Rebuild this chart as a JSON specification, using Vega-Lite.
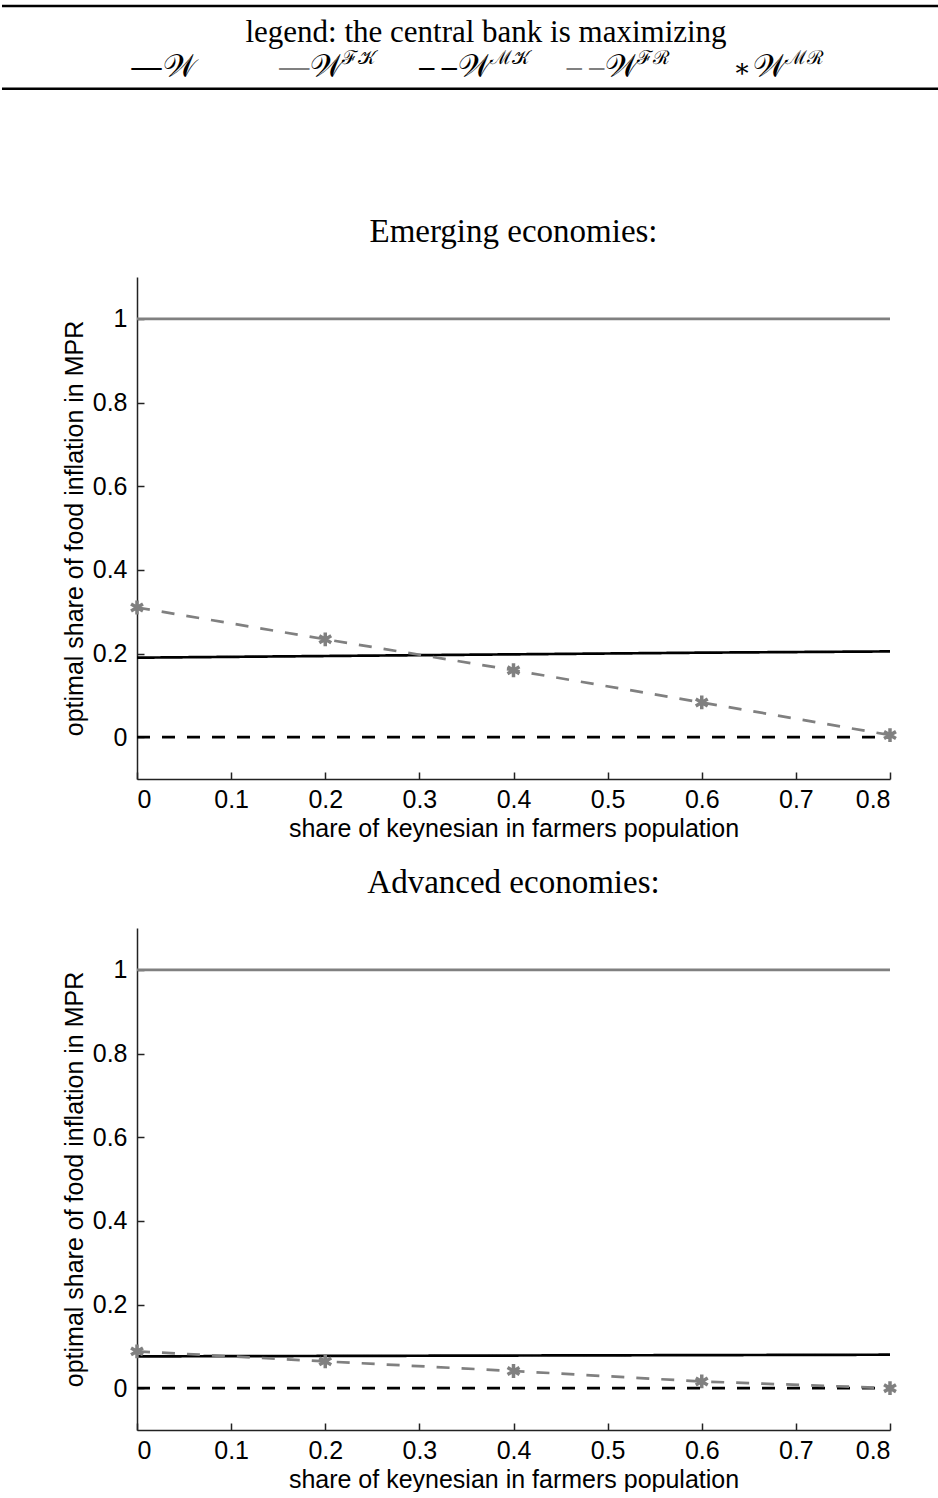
{
  "$schema": "https://vega.github.io/schema/vega-lite/v6.json",
  "padding": {"left": 0, "right": 0, "top": 4, "bottom": 0},
  "background": "white",
  "spacing": 26,
  "config": {
    "view": {"stroke": null},
    "font": "Liberation Sans",
    "axis": {
      "labelFont": "Liberation Sans", "labelFontSize": 25, "labelColor": "black",
      "titleFont": "Liberation Sans", "titleFontSize": 25, "titleFontWeight": "normal", "titleColor": "black",
      "domainColor": "#222222", "domainWidth": 1.5, "tickColor": "#222222", "tickWidth": 1.5,
      "tickSize": -7, "grid": false
    },
    "title": {"font": "Liberation Serif", "fontSize": 33, "fontWeight": "normal", "color": "black", "anchor": "middle"}
  },
  "datasets": {
    "curves": [
      {"economy": "Emerging", "series": "W", "share": 0.0, "value": 0.190},
      {"economy": "Emerging", "series": "W", "share": 0.2, "value": 0.194},
      {"economy": "Emerging", "series": "W", "share": 0.4, "value": 0.198},
      {"economy": "Emerging", "series": "W", "share": 0.6, "value": 0.202},
      {"economy": "Emerging", "series": "W", "share": 0.8, "value": 0.205},
      {"economy": "Emerging", "series": "FK", "share": 0.0, "value": 1.0},
      {"economy": "Emerging", "series": "FK", "share": 0.2, "value": 1.0},
      {"economy": "Emerging", "series": "FK", "share": 0.4, "value": 1.0},
      {"economy": "Emerging", "series": "FK", "share": 0.6, "value": 1.0},
      {"economy": "Emerging", "series": "FK", "share": 0.8, "value": 1.0},
      {"economy": "Emerging", "series": "MK", "share": 0.0, "value": 0.0},
      {"economy": "Emerging", "series": "MK", "share": 0.2, "value": 0.0},
      {"economy": "Emerging", "series": "MK", "share": 0.4, "value": 0.0},
      {"economy": "Emerging", "series": "MK", "share": 0.6, "value": 0.0},
      {"economy": "Emerging", "series": "MK", "share": 0.8, "value": 0.0},
      {"economy": "Emerging", "series": "FR", "share": 0.0, "value": 0.310},
      {"economy": "Emerging", "series": "FR", "share": 0.2, "value": 0.234},
      {"economy": "Emerging", "series": "FR", "share": 0.4, "value": 0.160},
      {"economy": "Emerging", "series": "FR", "share": 0.6, "value": 0.083},
      {"economy": "Emerging", "series": "FR", "share": 0.8, "value": 0.005},
      {"economy": "Emerging", "series": "MR", "share": 0.0, "value": 0.310},
      {"economy": "Emerging", "series": "MR", "share": 0.2, "value": 0.234},
      {"economy": "Emerging", "series": "MR", "share": 0.4, "value": 0.160},
      {"economy": "Emerging", "series": "MR", "share": 0.6, "value": 0.083},
      {"economy": "Emerging", "series": "MR", "share": 0.8, "value": 0.005},
      {"economy": "Advanced", "series": "W", "share": 0.0, "value": 0.076},
      {"economy": "Advanced", "series": "W", "share": 0.2, "value": 0.077},
      {"economy": "Advanced", "series": "W", "share": 0.4, "value": 0.078},
      {"economy": "Advanced", "series": "W", "share": 0.6, "value": 0.079},
      {"economy": "Advanced", "series": "W", "share": 0.8, "value": 0.080},
      {"economy": "Advanced", "series": "FK", "share": 0.0, "value": 1.0},
      {"economy": "Advanced", "series": "FK", "share": 0.2, "value": 1.0},
      {"economy": "Advanced", "series": "FK", "share": 0.4, "value": 1.0},
      {"economy": "Advanced", "series": "FK", "share": 0.6, "value": 1.0},
      {"economy": "Advanced", "series": "FK", "share": 0.8, "value": 1.0},
      {"economy": "Advanced", "series": "MK", "share": 0.0, "value": 0.0},
      {"economy": "Advanced", "series": "MK", "share": 0.2, "value": 0.0},
      {"economy": "Advanced", "series": "MK", "share": 0.4, "value": 0.0},
      {"economy": "Advanced", "series": "MK", "share": 0.6, "value": 0.0},
      {"economy": "Advanced", "series": "MK", "share": 0.8, "value": 0.0},
      {"economy": "Advanced", "series": "FR", "share": 0.0, "value": 0.088},
      {"economy": "Advanced", "series": "FR", "share": 0.2, "value": 0.064},
      {"economy": "Advanced", "series": "FR", "share": 0.4, "value": 0.041},
      {"economy": "Advanced", "series": "FR", "share": 0.6, "value": 0.016},
      {"economy": "Advanced", "series": "FR", "share": 0.8, "value": 0.0},
      {"economy": "Advanced", "series": "MR", "share": 0.0, "value": 0.088},
      {"economy": "Advanced", "series": "MR", "share": 0.2, "value": 0.064},
      {"economy": "Advanced", "series": "MR", "share": 0.4, "value": 0.041},
      {"economy": "Advanced", "series": "MR", "share": 0.6, "value": 0.016},
      {"economy": "Advanced", "series": "MR", "share": 0.8, "value": 0.0}
    ],
    "legend": [
      {"series": "W", "sym": "—", "sup": ""},
      {"series": "FK", "sym": "—", "sup": "ℱ𝒦"},
      {"series": "MK", "sym": "– –", "sup": "ℳ𝒦"},
      {"series": "FR", "sym": "– –", "sup": "ℱℛ"},
      {"series": "MR", "sym": "∗", "sup": "ℳℛ"}
    ]
  },
  "resolve": {"scale": {"color": "independent", "strokeDash": "independent"}},
  "vconcat": [
    {
      "width": 753,
      "height": 184,
      "resolve": {"scale": {"x": "independent"}},
      "layer": [
        {
          "data": {"values": [{"pos": 0}, {"pos": 90}]},
          "mark": {"type": "rule", "color": "black", "strokeWidth": 2.5},
          "encoding": {
            "x": {"datum": -0.1793, "type": "quantitative", "scale": {"domain": [0, 1]}, "axis": null},
            "x2": {"datum": 1.0664},
            "y": {"field": "pos", "type": "quantitative", "scale": {"domain": [0, 184], "reverse": true}, "axis": null}
          }
        },
        {
          "data": {"values": [{"label": "legend: the central bank is maximizing"}]},
          "mark": {"type": "text", "font": "Liberation Serif", "fontSize": 31, "color": "black", "baseline": "middle", "align": "center"},
          "encoding": {
            "x": {"datum": 0.4635, "type": "quantitative", "scale": {"domain": [0, 1]}, "axis": null},
            "y": {"datum": 29, "type": "quantitative"},
            "text": {"field": "label"}
          }
        },
        {
          "data": {"name": "legend"},
          "encoding": {
            "x": {"field": "series", "type": "nominal", "scale": {"type": "point", "domain": ["W", "FK", "MK", "FR", "MR"], "padding": 0.5508, "align": 0.157}, "axis": null}
          },
          "layer": [
            {
              "transform": [{"filter": "datum.series != 'MR'"}],
              "mark": {"type": "text", "font": "Liberation Serif", "fontSize": 30, "fontWeight": "bold", "align": "right", "baseline": "middle", "dx": -1},
              "encoding": {
                "y": {"datum": 66, "type": "quantitative"},
                "text": {"field": "sym"},
                "color": {"field": "series", "type": "nominal", "scale": {"domain": ["W", "FK", "MK", "FR", "MR"], "range": ["#000000", "#808080", "#000000", "#808080", "#000000"]}, "legend": null}
              }
            },
            {
              "transform": [{"filter": "datum.series == 'MR'"}],
              "mark": {"type": "text", "font": "DejaVu Serif", "fontSize": 26, "align": "right", "baseline": "middle", "dx": -2, "color": "black"},
              "encoding": {
                "y": {"datum": 68, "type": "quantitative"},
                "text": {"field": "sym"}
              }
            },
            {
              "mark": {"type": "text", "font": "DejaVu Serif", "fontSize": 32, "align": "left", "baseline": "middle", "color": "black"},
              "encoding": {
                "y": {"datum": 66, "type": "quantitative"},
                "text": {"value": "𝒲"}
              }
            },
            {
              "mark": {"type": "text", "font": "DejaVu Serif", "fontSize": 19, "align": "left", "baseline": "middle", "color": "black", "dx": 32},
              "encoding": {
                "y": {"datum": 57, "type": "quantitative"},
                "text": {"field": "sup"}
              }
            }
          ]
        }
      ]
    },
    {
      "title": {"text": "Emerging economies:", "offset": 28},
      "width": 753,
      "height": 502,
      "data": {"name": "curves"},
      "transform": [{"filter": "datum.economy == 'Emerging'"}],
      "layer": [
        {
          "transform": [{"filter": "datum.series != 'MR'"}],
          "mark": {"type": "line", "strokeWidth": 2.7},
          "encoding": {
            "x": {"field": "share", "type": "quantitative", "scale": {"domain": [0, 0.8], "nice": false, "zero": false}, "axis": {"title": "share of keynesian in farmers population", "values": [0, 0.1, 0.2, 0.3, 0.4, 0.5, 0.6, 0.7, 0.8], "format": "~g", "labelPadding": 15, "titlePadding": 4}},
            "y": {"field": "value", "type": "quantitative", "scale": {"domain": [-0.1, 1.1], "nice": false, "zero": false}, "axis": {"title": "optimal share of food inflation in MPR", "values": [0, 0.2, 0.4, 0.6, 0.8, 1], "format": "~g", "labelPadding": 17, "titlePadding": 5}},
            "color": {"field": "series", "type": "nominal", "scale": {"domain": ["W", "FK", "MK", "FR"], "range": ["#000000", "#808080", "#000000", "#808080"]}, "legend": null},
            "strokeDash": {"field": "series", "type": "nominal", "scale": {"domain": ["W", "FK", "MK", "FR"], "range": [[1, 0], [1, 0], [13, 12], [13, 12]]}, "legend": null}
          }
        },
        {
          "transform": [{"filter": "datum.series == 'MR'"}],
          "mark": {"type": "point", "shape": "M0,-1L0,1M-0.866,-0.5L0.866,0.5M-0.866,0.5L0.866,-0.5", "filled": false, "strokeWidth": 3.5, "size": 190, "color": "#808080", "opacity": 1},
          "encoding": {
            "x": {"field": "share", "type": "quantitative"},
            "y": {"field": "value", "type": "quantitative"}
          }
        }
      ]
    },
    {
      "title": {"text": "Advanced economies:", "offset": 28},
      "width": 753,
      "height": 502,
      "data": {"name": "curves"},
      "transform": [{"filter": "datum.economy == 'Advanced'"}],
      "layer": [
        {
          "transform": [{"filter": "datum.series != 'MR'"}],
          "mark": {"type": "line", "strokeWidth": 2.7},
          "encoding": {
            "x": {"field": "share", "type": "quantitative", "scale": {"domain": [0, 0.8], "nice": false, "zero": false}, "axis": {"title": "share of keynesian in farmers population", "values": [0, 0.1, 0.2, 0.3, 0.4, 0.5, 0.6, 0.7, 0.8], "format": "~g", "labelPadding": 15, "titlePadding": 4}},
            "y": {"field": "value", "type": "quantitative", "scale": {"domain": [-0.1, 1.1], "nice": false, "zero": false}, "axis": {"title": "optimal share of food inflation in MPR", "values": [0, 0.2, 0.4, 0.6, 0.8, 1], "format": "~g", "labelPadding": 17, "titlePadding": 5}},
            "color": {"field": "series", "type": "nominal", "scale": {"domain": ["W", "FK", "MK", "FR"], "range": ["#000000", "#808080", "#000000", "#808080"]}, "legend": null},
            "strokeDash": {"field": "series", "type": "nominal", "scale": {"domain": ["W", "FK", "MK", "FR"], "range": [[1, 0], [1, 0], [13, 12], [13, 12]]}, "legend": null}
          }
        },
        {
          "transform": [{"filter": "datum.series == 'MR'"}],
          "mark": {"type": "point", "shape": "M0,-1L0,1M-0.866,-0.5L0.866,0.5M-0.866,0.5L0.866,-0.5", "filled": false, "strokeWidth": 3.5, "size": 190, "color": "#808080", "opacity": 1},
          "encoding": {
            "x": {"field": "share", "type": "quantitative"},
            "y": {"field": "value", "type": "quantitative"}
          }
        }
      ]
    }
  ]
}
